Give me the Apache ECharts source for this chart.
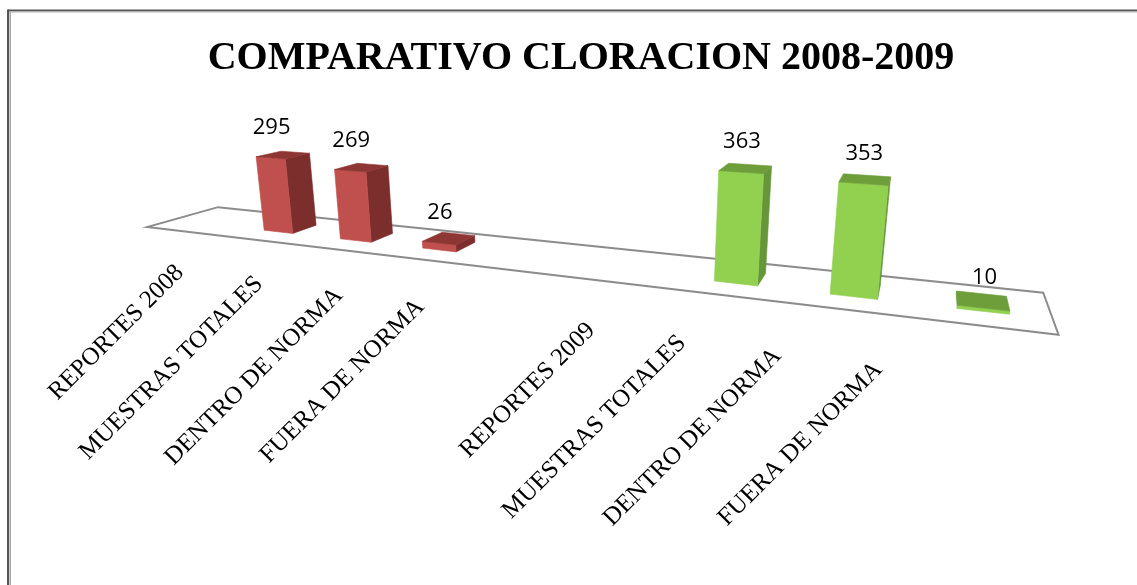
<!DOCTYPE html>
<html>
<head>
<meta charset="utf-8">
<script src="https://cdn.jsdelivr.net/npm/echarts@6/dist/echarts.min.js"></script>
<style>
html, body { margin: 0; padding: 0; background: #fff; overflow: hidden; }
#chart { width: 1137px; height: 585px; }
</style>
</head>
<body>
<div id="chart"></div>
<script>
var chartTitle = 'COMPARATIVO CLORACION 2008-2009';
var categories = ['REPORTES 2008', 'MUESTRAS TOTALES', 'DENTRO DE NORMA', 'FUERA DE NORMA', '',
                  'REPORTES 2009', 'MUESTRAS TOTALES', 'DENTRO DE NORMA', 'FUERA DE NORMA'];
var values2008 = [null, 295, 269, 26, null, null, null, null, null];
var values2009 = [null, null, null, null, null, null, 363, 353, 10];

// perspective camera (screen centre, focal length, pitch)
var CAM = { cx: 597, cy: 248, f: 857, pitch: 15.8 * Math.PI / 180 };
// floor in camera space (camera height = 1)
var FLOOR = { ox: -2.111, oz: 3.896, ex: [0.934, -0.358], eb: [0.358, 0.934], len: 3.82, depth: 0.44 };
var BAR_SHARE = 0.384;   // bar width / category band
var BAR_MID = 0.23;      // bar centre in floor depth
// where the rotated category labels end (excel lays them out on its own)
var LBL = { x0: 180, ax: 79, bx: 0.13, y0: 269, ay: 11.2, by: 0.014 };

var sinP = Math.sin(CAM.pitch), cosP = Math.cos(CAM.pitch);
var camX = -FLOOR.ox * FLOOR.ex[0] - FLOOR.oz * FLOOR.ex[1];

function proj(x, b, y) {
    var hx = FLOOR.ox + x * FLOOR.ex[0] + b * FLOOR.eb[0];
    var hz = FLOOR.oz + x * FLOOR.ex[1] + b * FLOOR.eb[1];
    var ry = y - 1;
    var d = -ry * sinP + hz * cosP;
    var v = ry * cosP + hz * sinP;
    return [CAM.cx + CAM.f * hx / d, CAM.cy - CAM.f * v / d];
}

function poly(points, color, z2) {
    return {
        type: 'polygon',
        z2: z2 || 0,
        shape: { points: points },
        style: { fill: color, stroke: color, lineWidth: 0.6 }
    };
}

function barRender(colors) {
    return function (params, api) {
        var v = api.value(1);
        var cs = params.coordSys;
        var s = cs.width / FLOOR.len;
        var top = api.coord([api.value(0), v]);
        var base = api.coord([api.value(0), 0]);
        var band = api.size([1, 0])[0];
        var xc = (top[0] - cs.x) / s;
        var hw = band * BAR_SHARE / 2 / s;
        var h = (base[1] - top[1]) / s;
        var xl = xc - hw, xr = xc + hw;
        var b0 = BAR_MID - hw, b1 = BAR_MID + hw;
        var kids = [];
        if (camX > xr) {
            kids.push(poly([proj(xr, b0, 0), proj(xr, b1, 0), proj(xr, b1, h), proj(xr, b0, h)], colors.side));
        }
        if (camX < xl) {
            kids.push(poly([proj(xl, b0, 0), proj(xl, b1, 0), proj(xl, b1, h), proj(xl, b0, h)], colors.side));
        }
        kids.push(poly([proj(xl, b0, 0), proj(xr, b0, 0), proj(xr, b0, h), proj(xl, b0, h)], colors.front, 1));
        kids.push(poly([proj(xl, b0, h), proj(xr, b0, h), proj(xr, b1, h), proj(xl, b1, h)], colors.top, 1));
        var lp = proj(xc, b0, h);
        kids.push({
            type: 'text',
            z2: 2,
            style: {
                text: String(v), x: lp[0] + 1, y: lp[1] - 30,
                align: 'center', verticalAlign: 'middle',
                font: '22px "Open Sans", "Noto Sans", sans-serif', fill: '#000'
            }
        });
        return { type: 'group', children: kids };
    };
}

function toData(arr) {
    var out = [];
    for (var i = 0; i < arr.length; i++) {
        if (arr[i] != null) out.push([i, arr[i]]);
    }
    return out;
}

var myChart = echarts.init(document.getElementById('chart'));
var option = {
    backgroundColor: '#fff',
    animation: false,
    title: {
        text: chartTitle,
        left: 576,
        top: 34,
        textAlign: 'center',
        textStyle: { fontFamily: '"Liberation Serif", "Times New Roman", serif', fontWeight: 'bold', fontSize: 40, color: '#000' }
    },
    grid: { left: 100, top: 100, width: 764, height: 93 },
    xAxis: { type: 'category', data: categories, show: false },
    yAxis: { type: 'value', min: 0, max: 400, show: false },
    graphic: [
        { type: 'line', shape: { x1: 8, y1: 10.5, x2: 1137, y2: 10.5 }, style: { stroke: '#555', lineWidth: 2 } },
        { type: 'line', shape: { x1: 8, y1: 9.5, x2: 8, y2: 585 }, style: { stroke: '#555', lineWidth: 2 } },
        { type: 'line', shape: { x1: 9, y1: 12.2, x2: 1137, y2: 12.2 }, style: { stroke: '#c8c8c8', lineWidth: 1 } },
        { type: 'line', shape: { x1: 10.2, y1: 11.5, x2: 10.2, y2: 585 }, style: { stroke: '#a8a8a8', lineWidth: 1.6 } }
    ],
    series: [
        {
            name: 'piso',
            type: 'custom',
            clip: false,
            z: 1,
            data: [[0, 0]],
            renderItem: function (params, api) {
                var L = FLOOR.len, W = FLOOR.depth;
                return {
                    type: 'polygon',
                    shape: { points: [proj(0, 0, 0), proj(L, 0, 0), proj(L, W, 0), proj(0, W, 0)] },
                    style: { fill: '#fff', stroke: '#8c8c8c', lineWidth: 2 }
                };
            }
        },
        {
            name: '2008',
            type: 'custom',
            clip: false,
            z: 2,
            data: toData(values2008),
            renderItem: barRender({ front: '#c0504d', side: '#7b2e2c', top: '#8e3634' })
        },
        {
            name: '2009',
            type: 'custom',
            clip: false,
            z: 2,
            data: toData(values2009),
            renderItem: barRender({ front: '#92d050', side: '#66963a', top: '#6e9e3a' })
        },
        {
            name: 'etiquetas',
            type: 'custom',
            clip: false,
            z: 3,
            data: categories.map(function (c, i) { return [i, 0]; }),
            renderItem: function (params, api) {
                var t = api.value(0);
                return {
                    type: 'text',
                    x: LBL.x0 + LBL.ax * t + LBL.bx * t * t * t,
                    y: LBL.y0 + LBL.ay * t + LBL.by * t * t * t,
                    rotation: Math.PI / 4,
                    style: {
                        text: categories[t], x: 0, y: 0,
                        align: 'right', verticalAlign: 'middle',
                        font: '25px "Liberation Serif", "Times New Roman", serif', fill: '#000'
                    }
                };
            }
        }
    ]
};
myChart.setOption(option);
</script>
</body>
</html>
